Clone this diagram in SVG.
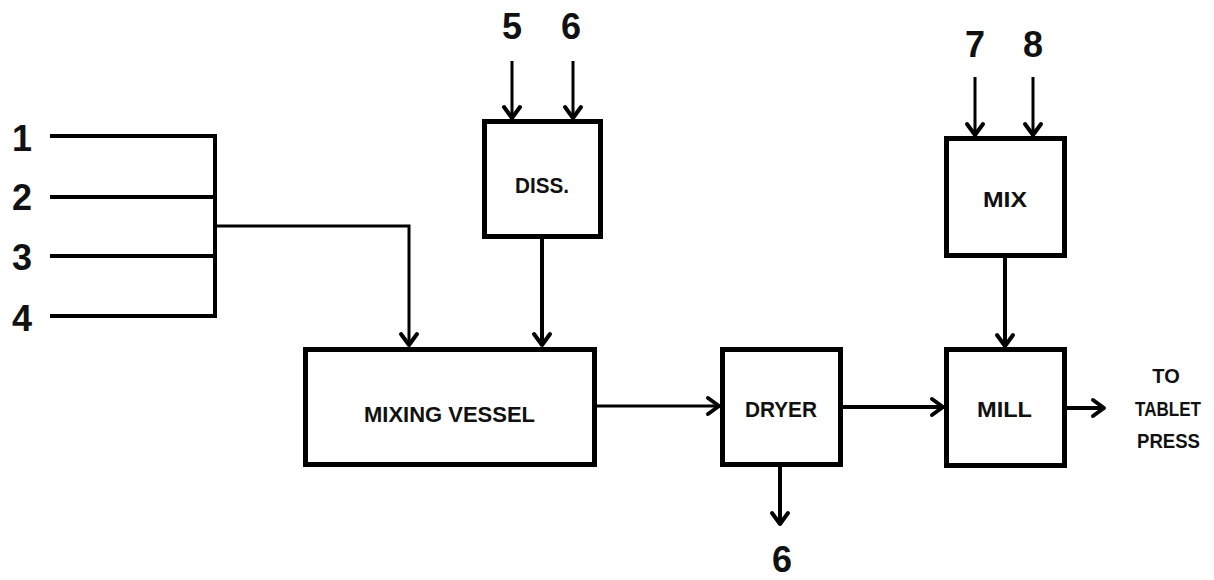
<svg xmlns="http://www.w3.org/2000/svg" width="1214" height="580" viewBox="0 0 1214 580">
  <style>
    .box { fill: #fff; stroke: #000; stroke-width: 5; }
    .lbl { font-family: "Liberation Sans", Arial, sans-serif; font-size: 22px; font-weight: bold; fill: #111; text-anchor: middle; }
    .out { font-size: 20px; }
    .num { font-family: "Liberation Sans", Arial, sans-serif; font-size: 36px; font-weight: bold; fill: #111; text-anchor: middle; }
    .ln { fill: none; stroke: #000; stroke-width: 4; }
    .thin { stroke-width: 3; }
  </style>
  <defs>
    <marker id="ah" markerUnits="userSpaceOnUse" viewBox="-16 -12 20 24" refX="0" refY="0" markerWidth="20" markerHeight="24" orient="auto" overflow="visible">
      <path d="M-12,-8 L-1,0 L-12,8" fill="none" stroke="#000" stroke-width="4" stroke-linejoin="round" stroke-linecap="round"/>
    </marker>
  </defs>
  <rect width="1214" height="580" fill="#fff"/>

  <g id="connectors">
    <path class="ln" d="M50,136 H215 M50,197 H215 M50,256 H215 M50,316 H215 M215,134 V318"/>
    <path class="ln thin" d="M215,226 H409 V346" marker-end="url(#ah)"/>
    <path class="ln thin" d="M512,61 V119" marker-end="url(#ah)"/>
    <path class="ln thin" d="M573,61 V119" marker-end="url(#ah)"/>
    <path class="ln" d="M542,239 V346" marker-end="url(#ah)"/>
    <path class="ln thin" d="M597,406 H720" marker-end="url(#ah)"/>
    <path class="ln" d="M843,407 H944" marker-end="url(#ah)"/>
    <path class="ln" d="M780,467 V525" marker-end="url(#ah)"/>
    <path class="ln thin" d="M975,77 V136" marker-end="url(#ah)"/>
    <path class="ln thin" d="M1033,77 V136" marker-end="url(#ah)"/>
    <path class="ln" d="M1005,258 V347" marker-end="url(#ah)"/>
    <path class="ln" d="M1067,408 H1105" marker-end="url(#ah)"/>
  </g>

  <g id="inputs">
    <text class="num" x="22" y="151">1</text>
    <text class="num" x="22" y="210">2</text>
    <text class="num" x="22" y="270">3</text>
    <text class="num" x="22" y="331">4</text>
    <text class="num" x="512" y="39">5</text>
    <text class="num" x="571" y="39">6</text>
    <text class="num" x="975" y="57">7</text>
    <text class="num" x="1033" y="57">8</text>
    <text class="num" x="782" y="572">6</text>
  </g>

  <g id="diss">
    <rect class="box" x="484.5" y="121.5" width="116" height="115"/>
    <text class="lbl" x="542" y="193" textLength="54" lengthAdjust="spacingAndGlyphs">DISS.</text>
  </g>
  <g id="mixing-vessel">
    <rect class="box" x="305.5" y="349.5" width="289" height="115"/>
    <text class="lbl" x="449.5" y="422" textLength="171" lengthAdjust="spacingAndGlyphs">MIXING VESSEL</text>
  </g>
  <g id="dryer">
    <rect class="box" x="722.5" y="349.5" width="118" height="115"/>
    <text class="lbl" x="781" y="417" textLength="72" lengthAdjust="spacingAndGlyphs">DRYER</text>
  </g>
  <g id="mix">
    <rect class="box" x="946.5" y="138.5" width="118" height="117"/>
    <text class="lbl" x="1005" y="207" textLength="44" lengthAdjust="spacingAndGlyphs">MIX</text>
  </g>
  <g id="mill">
    <rect class="box" x="946.5" y="349.5" width="118" height="116"/>
    <text class="lbl" x="1004.5" y="417" textLength="55" lengthAdjust="spacingAndGlyphs">MILL</text>
  </g>
  <g id="output">
    <text class="lbl out" x="1166" y="383">TO</text>
    <text class="lbl out" x="1168" y="416" textLength="66" lengthAdjust="spacingAndGlyphs">TABLET</text>
    <text class="lbl out" x="1168.5" y="448" textLength="63" lengthAdjust="spacingAndGlyphs">PRESS</text>
  </g>
</svg>
